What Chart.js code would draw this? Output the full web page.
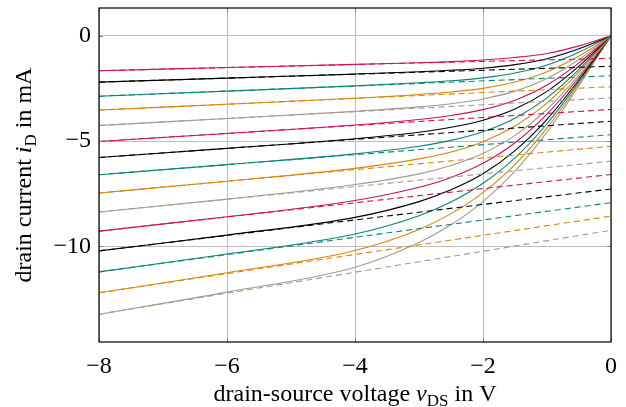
<!DOCTYPE html>
<html>
<head>
<meta charset="utf-8">
<script src="https://cdn.jsdelivr.net/npm/chart.js@4.4.1/dist/chart.umd.min.js"></script>
<style>
html,body{margin:0;padding:0;background:#fff;}
#wrap{width:626px;height:407px;position:relative;}
</style>
</head>
<body>
<div id="wrap"><canvas id="c"></canvas></div>
<script>
// drain-source voltage samples (V)
const vds = [-8, -6, -4, -3, -2.5, -2, -1.5, -1, -0.5, 0];
// drain current curves (mA), top to bottom
const c01 = [-1.66, -1.51, -1.36, -1.28, -1.23, -1.15, -1.03, -0.84, -0.48, 0];
const c02 = [-2.20, -2.01, -1.82, -1.71, -1.64, -1.54, -1.37, -1.09, -0.62, 0];
const c03 = [-2.87, -2.63, -2.38, -2.23, -2.14, -2.00, -1.77, -1.39, -0.78, 0];
const c04 = [-3.53, -3.25, -2.97, -2.79, -2.67, -2.50, -2.20, -1.71, -0.96, 0];
const c05 = [-4.26, -3.93, -3.59, -3.38, -3.23, -3.00, -2.63, -2.03, -1.13, 0];
const c06 = [-5.02, -4.64, -4.24, -3.98, -3.79, -3.51, -3.06, -2.34, -1.29, 0];
const c07 = [-5.78, -5.35, -4.89, -4.58, -4.35, -4.01, -3.48, -2.64, -1.44, 0];
const c08 = [-6.60, -6.12, -5.61, -5.25, -4.97, -4.56, -3.92, -2.95, -1.60, 0];
const c09 = [-7.47, -6.91, -6.30, -5.85, -5.52, -5.03, -4.29, -3.20, -1.72, 0];
const c10 = [-8.37, -7.76, -7.07, -6.56, -6.16, -5.59, -4.73, -3.49, -1.86, 0];
const c11 = [-9.28, -8.60, -7.83, -7.20, -6.73, -6.06, -5.08, -3.72, -1.97, 0];
const c12 = [-10.22, -9.47, -8.63, -7.88, -7.32, -6.56, -5.46, -3.97, -2.09, 0];
const c13 = [-11.22, -10.37, -9.42, -8.55, -7.90, -7.01, -5.80, -4.18, -2.18, 0];
const c14 = [-12.21, -11.26, -10.20, -9.20, -8.45, -7.45, -6.12, -4.38, -2.28, 0];
const c15 = [-13.23, -12.18, -11.00, -9.82, -8.98, -7.88, -6.43, -4.58, -2.37, 0];
const curves = [c01,c02,c03,c04,c05,c06,c07,c08,c09,c10,c11,c12,c13,c14,c15];
// saturation extrapolation lines (dashed): value at vDS=-8 and at vDS=0
const dashX = [-8, 0];
const dashLeft  = [-1.66, -2.20, -2.87, -3.53, -4.26, -5.02, -5.78, -6.60, -7.47, -8.37, -9.28, -10.22, -11.22, -12.21, -13.23];
const dashRight = [-1.07, -1.45, -1.90, -2.42, -2.95, -3.50, -4.06, -4.70, -5.25, -5.96, -6.59, -7.28, -7.93, -8.57, -9.24];
// axis ticks
const xTicks = [-8, -6, -4, -2, 0];
const yTicks = [-10, -5, 0];
const palette = ['#d10f5b', '#000000', '#0a847c', '#d8860b', '#a59a8c'];

const FONT = '"Liberation Serif", "Times New Roman", serif';
const datasets = [];
curves.forEach((c, k) => {
  const col = palette[k % 5];
  datasets.push({
    data: vds.map((v, i) => ({x: v, y: c[i]})),
    borderColor: col, borderWidth: 1.1, pointRadius: 0, showLine: true,
    cubicInterpolationMode: 'monotone', fill: false
  });
  datasets.push({
    data: dashX.map((v, i) => ({x: v, y: i === 0 ? dashLeft[k] : dashRight[k]})),
    borderColor: col, borderWidth: 1.1, borderDash: [6, 4], pointRadius: 0, showLine: true, fill: false
  });
});

function richText(ctx, parts, cx, cy) {
  const base = 24, sub = 17;
  let w = 0;
  const fonts = parts.map(p => (p.it ? 'italic ' : '') + (p.sub ? sub : base) + 'px ' + FONT);
  parts.forEach((p, i) => { ctx.font = fonts[i]; w += ctx.measureText(p.t).width; });
  let x = cx - w / 2;
  ctx.textAlign = 'left'; ctx.textBaseline = 'alphabetic'; ctx.fillStyle = '#000';
  parts.forEach((p, i) => {
    ctx.font = fonts[i];
    ctx.fillText(p.t, x, cy + (p.sub ? 5 : 0));
    x += ctx.measureText(p.t).width;
  });
}

const framePlugin = {
  id: 'frame',
  afterDraw(chart) {
    const {ctx, chartArea: a, scales: {x, y}} = chart;
    ctx.save();
    ctx.strokeStyle = '#808080'; ctx.lineWidth = 1;
    ctx.beginPath();
    xTicks.forEach(v => {
      const p = Math.round(x.getPixelForValue(v)) + 0.5;
      ctx.moveTo(p, a.bottom); ctx.lineTo(p, a.bottom - 4);
      ctx.moveTo(p, a.top); ctx.lineTo(p, a.top + 4);
    });
    yTicks.forEach(v => {
      const p = Math.round(y.getPixelForValue(v)) + 0.5;
      ctx.moveTo(a.left, p); ctx.lineTo(a.left + 4, p);
      ctx.moveTo(a.right, p); ctx.lineTo(a.right - 4, p);
    });
    ctx.stroke();
    ctx.strokeStyle = '#000'; ctx.lineWidth = 1.2;
    ctx.strokeRect(a.left, a.top, a.right - a.left, a.bottom - a.top);
    // axis titles
    richText(ctx, [{t: 'drain-source voltage '}, {t: 'v', it: true}, {t: 'DS', sub: true}, {t: ' in V'}],
      (a.left + a.right) / 2, 401);
    ctx.translate(31, (a.top + a.bottom) / 2);
    ctx.rotate(-Math.PI / 2);
    richText(ctx, [{t: 'drain current '}, {t: 'i', it: true}, {t: 'D', sub: true}, {t: ' in mA'}], 0, 0);
    ctx.restore();
  }
};

function noPad(s) { s.paddingTop = 0; s.paddingBottom = 0; s.paddingLeft = 0; s.paddingRight = 0; }

new Chart(document.getElementById('c'), {
  type: 'scatter',
  data: {datasets},
  options: {
    responsive: true, maintainAspectRatio: false, animation: false,
    layout: {padding: {left: 0, top: 8, right: 15, bottom: 0}},
    plugins: {legend: {display: false}, tooltip: {enabled: false}},
    scales: {
      x: {
        type: 'linear', min: -8, max: 0,
        afterFit: s => { s.height = 65; noPad(s); },
        afterBuildTicks: s => { s.ticks = xTicks.map(v => ({value: v})); },
        grid: {color: '#bdbdbd', lineWidth: 1, drawTicks: false},
        border: {display: false},
        ticks: {padding: 10, color: '#000', font: {family: FONT, size: 24},
          callback: v => (v < 0 ? '\u2212' + Math.abs(v) : String(v))}
      },
      y: {
        type: 'linear', min: -14.55, max: 1.32,
        afterFit: s => { s.width = 99; noPad(s); },
        afterBuildTicks: s => { s.ticks = yTicks.map(v => ({value: v})); },
        grid: {color: '#bdbdbd', lineWidth: 1, drawTicks: false},
        border: {display: false},
        ticks: {padding: 8, color: '#000', font: {family: FONT, size: 24},
          callback: v => (v < 0 ? '\u2212' + Math.abs(v) : String(v))}
      }
    }
  },
  plugins: [framePlugin]
});
</script>
</body>
</html>
